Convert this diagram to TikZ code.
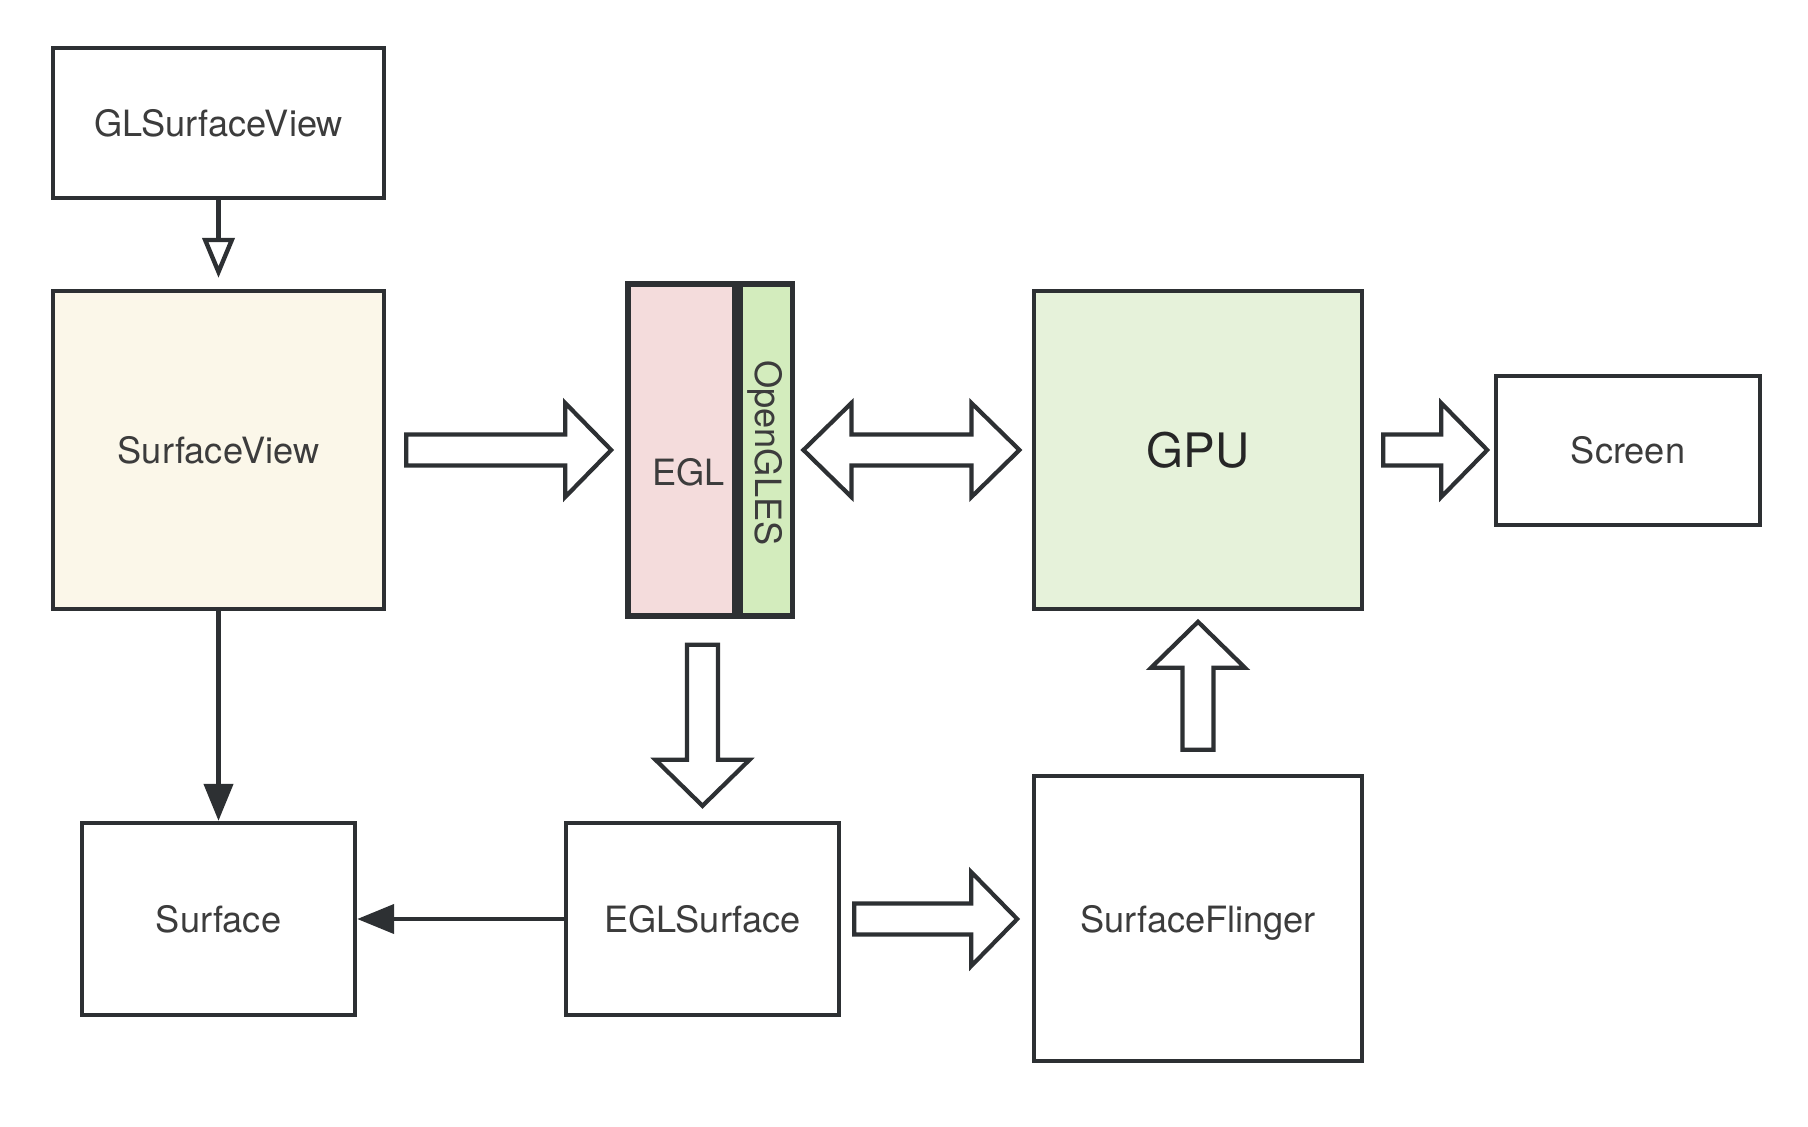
\documentclass[tikz,border=0pt]{standalone}
\usepackage{fontspec}
\setmainfont{TeX Gyre Heros}
\usetikzlibrary{arrows.meta,positioning,calc}
\definecolor{edgegray}{HTML}{2D3033}
\definecolor{textgray}{HTML}{3C3C3C}
\definecolor{creamfill}{HTML}{FBF7E9}
\definecolor{pinkfill}{HTML}{F4DCDC}
\definecolor{glesgreen}{HTML}{D3ECBD}
\definecolor{gpugreen}{HTML}{E6F2DA}

\tikzset{
  box/.style={draw=edgegray, line width=1.25pt, text=textgray, inner sep=0pt,
    font=\fontsize{10.3}{12}\selectfont},
  thinline/.style={draw=edgegray, line width=1.25pt},
  fatline/.style={draw=edgegray, line width=1.2pt, fill=white, line join=miter},
  pics/fatarrow/.style={code={
    \draw[fatline] (0,-0.155) -- (#1-0.46,-0.155) -- (#1-0.46,-0.47) -- (#1,0)
      -- (#1-0.46,0.47) -- (#1-0.46,0.155) -- (0,0.155) -- cycle;}},
  pics/twinarrow/.style={code={
    \draw[fatline] (0.48,-0.155) -- (#1-0.48,-0.155) -- (#1-0.48,-0.47) -- (#1,0)
      -- (#1-0.48,0.47) -- (#1-0.48,0.155) -- (0.48,0.155) -- (0.48,0.47) -- (0,0)
      -- (0.48,-0.47) -- cycle;}}
}

\begin{document}
\begin{tikzpicture}
  \useasboundingbox (0,0) rectangle (18.08,-11.26);

  % left column
  \node[box, minimum width=3.31cm, minimum height=1.50cm] (glsv) at (2.185,-1.23) {GLSurfaceView};
  \node[box, fill=creamfill, minimum width=3.31cm, minimum height=3.18cm] (sv) at (2.185,-4.50) {SurfaceView};
  \node[box, minimum width=2.73cm, minimum height=1.92cm] (surf) at (2.185,-9.19) {Surface};

  % EGL / OpenGLES block
  \node[box, fill=pinkfill, line width=1.6pt, minimum width=1.07cm, minimum height=3.32cm] (egl) at (6.815,-4.50) {};
  \node[box, fill=glesgreen, line width=1.6pt, minimum width=0.52cm, minimum height=3.32cm, anchor=west] (gles) at (egl.east) {};
  \node[text=textgray, font=\fontsize{10.3}{12}\selectfont] (egltext) at ($(egl.center)+(0.07,-0.22)$) {EGL};
  \node[text=textgray, font=\fontsize{10.3}{12}\selectfont, rotate=-90] (glestext) at ($(gles.center)+(-0.02,-0.03)$) {OpenGLES};
  \node[box, minimum width=2.73cm, minimum height=1.92cm] (eglsurf) at (7.025,-9.19) {EGLSurface};

  % right part
  \node[box, fill=gpugreen, minimum width=3.28cm, minimum height=3.18cm, text=black!85,
    font=\fontsize{13.5}{16}\selectfont] (gpu) at (11.98,-4.50) {GPU};
  \node[box, minimum width=2.64cm, minimum height=1.49cm] (screen) at (16.28,-4.505) {Screen};
  \node[box, minimum width=3.28cm, minimum height=2.85cm, text depth=-0.1cm] (sf) at (11.98,-9.185) {SurfaceFlinger};

  % thin connectors
  \draw[thinline, -{Triangle[open, length=0.4cm, width=0.32cm]}, shorten >=0.11cm] (glsv) -- (sv);
  \draw[thinline, -{Triangle[length=0.37cm, width=0.29cm]}] (sv) -- (surf);
  \draw[thinline, -{Triangle[length=0.37cm, width=0.29cm]}] (eglsurf) -- (surf);

  % block arrows
  \pic at ($(sv.east)+(0.20,0)$) {fatarrow=2.05};
  \pic at ($(gles.east)+(0.08,0)$) {twinarrow=2.16};
  \pic at ($(gpu.east)+(0.19,0)$) {fatarrow=1.04};
  \pic[rotate=-90] at ($(eglsurf.north |- egl.south)+(0,-0.26)$) {fatarrow=1.61};
  \pic at ($(eglsurf.east)+(0.13,0)$) {fatarrow=1.63};
  \pic[rotate=90] at ($(sf.north)+(0,0.24)$) {fatarrow=1.28};
\end{tikzpicture}
\end{document}
